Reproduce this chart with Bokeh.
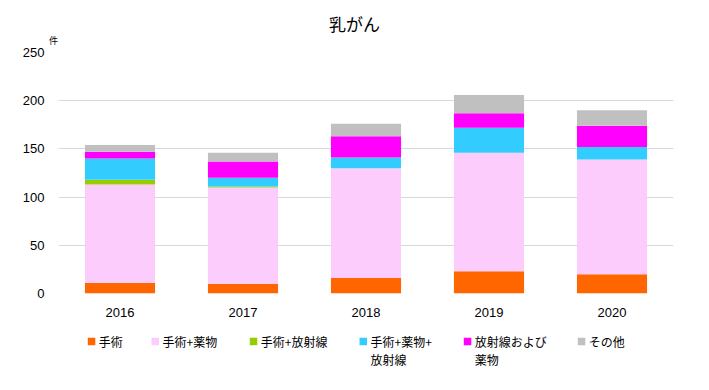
from bokeh.plotting import figure
from bokeh.models import ColumnDataSource, Range1d, FactorRange, Plot
from bokeh.layouts import column
from bokeh.core.properties import value
from bokeh.embed import file_html
from bokeh.resources import INLINE

years = ["2016", "2017", "2018", "2019", "2020"]
surgery = [11, 10, 16, 23, 20]
surgery_drug = [102, 100, 114, 123, 119]
surgery_radiation = [5, 1, 0, 0, 0]
surgery_drug_radiation = [22, 9, 11, 26, 13]
radiation_drug = [7, 17, 22, 15, 22]
other = [7, 9, 13, 19, 16]

title_text = "乳がん"
unit_text = "件"
series_names = ["手術", "手術+薬物", "手術+放射線", "手術+薬物+\n放射線", "放射線および\n薬物", "その他"]
series_keys = ["surgery", "surgery_drug", "surgery_radiation", "surgery_drug_radiation", "radiation_drug", "other"]
colors = ["#ff6600", "#fccdfc", "#99cc00", "#33ccff", "#ff00ff", "#c0c0c0"]
y_ticks = [0, 50, 100, 150, 200, 250]

data = dict(years=years, surgery=surgery, surgery_drug=surgery_drug,
            surgery_radiation=surgery_radiation,
            surgery_drug_radiation=surgery_drug_radiation,
            radiation_drug=radiation_drug, other=other)
source = ColumnDataSource(data)

JP = "Noto Sans CJK JP"
NUM = "Liberation Sans"
W = 709
HAS_FRAME_ALIGN = "frame_align" in Plot.properties()


def strip(h):
    f = figure(width=W, height=h, x_range=Range1d(0, W), y_range=Range1d(h, 0),
               output_backend="svg", toolbar_location=None,
               min_border_left=0, min_border_right=0, min_border_top=0, min_border_bottom=0)
    if HAS_FRAME_ALIGN:
        f.frame_align = False
    else:
        f.min_border_left = 58
        f.min_border_right = 36
        f.x_range = Range1d(58, W - 36)
    f.axis.visible = False
    f.grid.visible = False
    f.outline_line_color = None
    f.border_fill_color = "white"
    f.background_fill_color = "white"
    return f


# header strip: title and unit label (pixel coordinates)
HH = 46
head = strip(HH)
head.text(x=[354], y=[23], text=[title_text], text_font=value(JP), text_font_size="17px",
          text_align="center", text_baseline="middle", text_color="#000000")
head.text(x=[53 if HAS_FRAME_ALIGN else 62], y=[40], text=[unit_text], text_font=value(JP),
          text_font_size="9px", text_align="center", text_baseline="middle", text_color="#000000")

# main chart
p = figure(x_range=FactorRange(*years, range_padding=0.0), y_range=Range1d(0, 250),
           width=W, height=274, output_backend="svg", toolbar_location=None,
           min_border_left=58, min_border_right=36, min_border_top=6, min_border_bottom=27)
if HAS_FRAME_ALIGN:
    p.frame_align = False

renderers = p.vbar_stack(series_keys, x="years", width=0.57, color=colors,
                         source=source, line_width=0)

p.outline_line_color = None
p.background_fill_color = "white"
p.border_fill_color = "white"

p.xgrid.grid_line_color = None
p.ygrid.grid_line_color = "#d9d9d9"
p.ygrid.grid_line_width = 1
p.yaxis.ticker = y_ticks

for ax in (p.xaxis[0], p.yaxis[0]):
    ax.axis_line_color = None
    ax.major_tick_line_color = None
    ax.minor_tick_line_color = None
    ax.major_label_text_font = NUM
    ax.major_label_text_font_size = "13px"
    ax.major_label_text_color = "#000000"
p.yaxis.major_label_standoff = 8
p.xaxis.major_label_standoff = 8

# legend strip below the chart (pixel coordinates)
LH = 70
leg = strip(LH)

legend_x = [87.3, 151.0, 249.3, 359.0, 463.3, 577.3]
row1_y, row2_y, sq = 21.0, 39.2, 7.5
first_lines = [n.split("\n")[0] for n in series_names]
second_lines = [n.split("\n")[1] if "\n" in n else "" for n in series_names]

sq_src = ColumnDataSource(dict(x=[lx + sq / 2 for lx in legend_x], y=[row1_y] * len(legend_x),
                               color=colors))
leg.rect(x="x", y="y", width=sq, height=sq, fill_color="color", line_color=None, source=sq_src)

txt_src = ColumnDataSource(dict(x=[lx + sq + 3.5 for lx in legend_x],
                                y1=[row1_y] * len(legend_x), y2=[row2_y] * len(legend_x),
                                t1=first_lines, t2=second_lines))
leg.text(x="x", y="y1", text="t1", source=txt_src, text_font=value(JP),
         text_font_size="12px", text_baseline="middle", text_align="left", text_color="#000000")
leg.text(x="x", y="y2", text="t2", source=txt_src, text_font=value(JP),
         text_font_size="12px", text_baseline="middle", text_align="left", text_color="#000000")

layout = column(head, p, leg, spacing=0)
open("out.html", "w").write(file_html(layout, INLINE))
